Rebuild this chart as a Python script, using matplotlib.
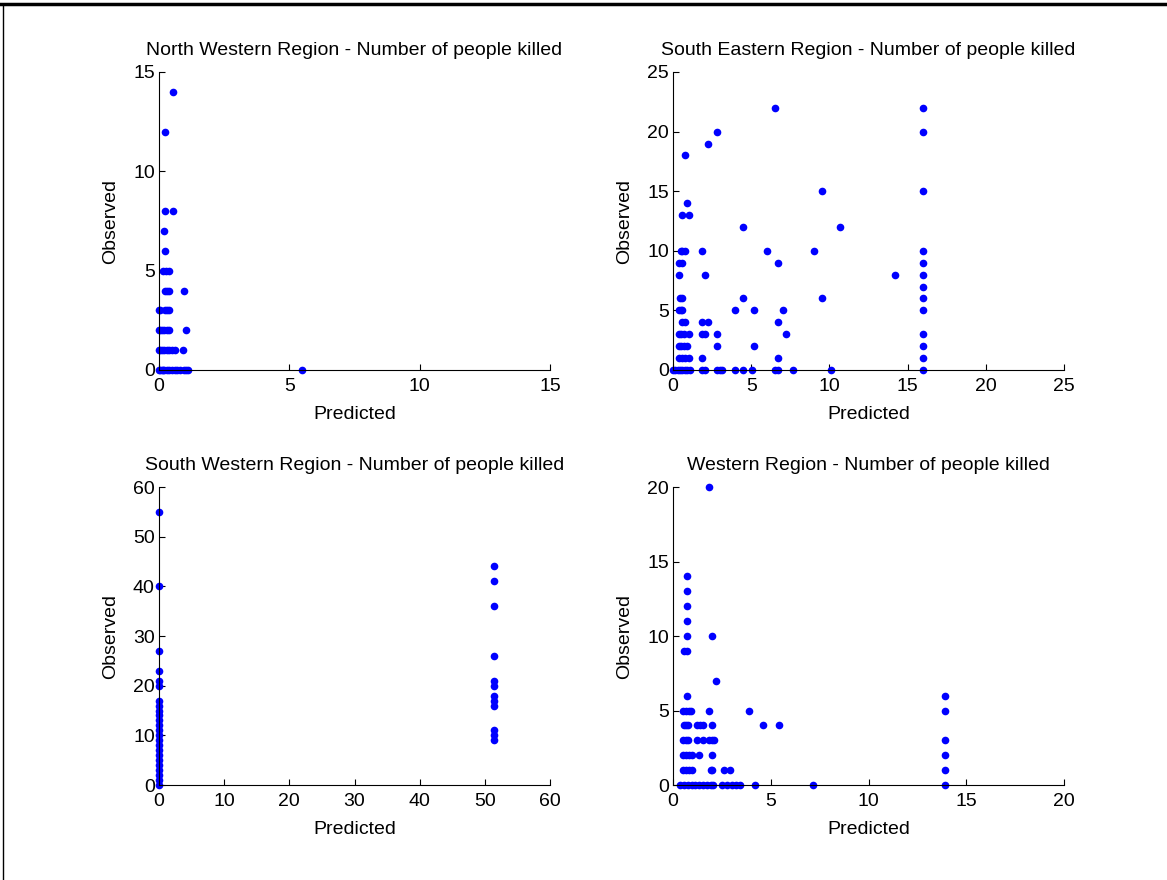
import matplotlib
matplotlib.use("Agg")
import matplotlib.pyplot as plt
from matplotlib.lines import Line2D

plt.rcParams['font.family'] = ['Liberation Sans', 'DejaVu Sans']

titles = ["North Western Region - Number of people killed",
          "South Eastern Region - Number of people killed",
          "South Western Region - Number of people killed",
          "Western Region - Number of people killed"]

# North Western
nw_pred = [0.55, 0.24, 0.24, 0.55, 0.19, 0.24,
           0.14, 0.27, 0.40,
           0.24, 0.32, 0.40, 0.96,
           0.00, 0.05, 0.24, 0.32, 0.40,
           0.00, 0.05, 0.12, 0.20, 0.30, 0.40, 1.05,
           0.00, 0.05, 0.10, 0.20, 0.30, 0.40, 0.50, 0.60, 0.93,
           0.00, 0.05, 0.10, 0.15, 0.20, 0.30, 0.40, 0.50, 0.60, 0.70, 0.80, 0.95, 1.05, 1.10,
           5.50]
nw_obs = [14, 12, 8, 8, 7, 6,
          5, 5, 5,
          4, 4, 4, 4,
          3, 3, 3, 3, 3,
          2, 2, 2, 2, 2, 2, 2,
          1, 1, 1, 1, 1, 1, 1, 1, 1,
          0, 0, 0, 0, 0, 0, 0, 0, 0, 0, 0, 0, 0, 0,
          0]

# South Eastern
se_pred = [6.52, 16.0, 2.84, 16.0, 2.24, 0.79, 9.55, 16.0, 0.87, 0.58, 1.00,
           4.48, 10.70,
           0.49, 0.60, 0.79, 1.85, 6.00, 9.03, 16.0,
           0.36, 0.58, 6.71, 16.0,
           0.36, 2.05, 14.19, 16.0,
           16.0,
           0.45, 0.58, 4.48, 9.55, 16.0,
           0.36, 0.50, 0.58, 3.98, 5.16, 7.01, 16.0,
           0.58, 0.79, 1.85, 2.24, 6.71,
           0.36, 0.50, 0.70, 1.00, 1.85, 2.05, 2.84, 7.20, 16.0,
           0.36, 0.50, 0.70, 0.87, 2.84, 5.16, 16.0,
           0.36, 0.55, 0.75, 1.00, 1.85, 6.71, 16.0,
           0.00, 0.15, 0.30, 0.45, 0.60, 0.75, 0.90, 1.07, 1.85, 2.05, 2.84, 3.00, 3.12,
           3.98, 4.48, 5.07, 6.52, 6.71, 7.66, 10.12, 16.0]
se_obs = [22, 22, 20, 20, 19, 18, 15, 15, 14, 13, 13,
          12, 12,
          10, 10, 10, 10, 10, 10, 10,
          9, 9, 9, 9,
          8, 8, 8, 8,
          7,
          6, 6, 6, 6, 6,
          5, 5, 5, 5, 5, 5, 5,
          4, 4, 4, 4, 4,
          3, 3, 3, 3, 3, 3, 3, 3, 3,
          2, 2, 2, 2, 2, 2, 2,
          1, 1, 1, 1, 1, 1, 1,
          0, 0, 0, 0, 0, 0, 0, 0, 0, 0, 0, 0, 0,
          0, 0, 0, 0, 0, 0, 0, 0]

# South Western
sw_pred = [0.0] * 24 + [51.4] * 12
sw_obs = [55, 40, 27, 23, 21, 20, 17, 16, 15, 14, 13, 12, 11, 10, 9, 8, 7, 6, 5, 4, 3, 2, 1, 0,
          44, 41, 36, 26, 21, 20, 18, 17, 16, 11, 10, 9]

# Western
w_pred = [1.86, 0.70, 0.70, 0.70, 0.70, 0.70, 2.01, 0.56, 0.70, 2.18,
          0.70, 13.91,
          0.50, 0.65, 0.80, 0.91, 1.86, 3.87, 13.91,
          0.56, 0.65, 0.77, 1.25, 1.40, 1.52, 2.01, 4.59, 5.44,
          0.50, 0.65, 0.77, 1.25, 1.52, 1.86, 2.00, 2.10, 13.91,
          0.50, 0.65, 0.80, 0.98, 1.33, 2.01, 13.91,
          0.50, 0.65, 0.80, 0.98, 1.94, 2.01, 2.63, 2.90, 13.91,
          0.36, 0.55, 0.75, 0.95, 1.15, 1.35, 1.55, 1.75, 1.95, 2.06,
          2.50, 2.75, 3.00, 3.20, 3.44, 4.21, 7.16, 13.91]
w_obs = [20, 14, 13, 12, 11, 10, 10, 9, 9, 7,
         6, 6,
         5, 5, 5, 5, 5, 5, 5,
         4, 4, 4, 4, 4, 4, 4, 4, 4,
         3, 3, 3, 3, 3, 3, 3, 3, 3,
         2, 2, 2, 2, 2, 2, 2,
         1, 1, 1, 1, 1, 1, 1, 1, 1,
         0, 0, 0, 0, 0, 0, 0, 0, 0, 0,
         0, 0, 0, 0, 0, 0, 0, 0]

preds = [nw_pred, se_pred, sw_pred, w_pred]
obss = [nw_obs, se_obs, sw_obs, w_obs]
limits = [15, 25, 60, 20]
ticks = [[0, 5, 10, 15], [0, 5, 10, 15, 20, 25], [0, 10, 20, 30, 40, 50, 60], [0, 5, 10, 15, 20]]

W, H = 1167, 880
fig = plt.figure(figsize=(W / 100, H / 100), dpi=100)

lefts = [159, 673, 159, 673]
tops = [72, 72, 487, 487]
aw = 391
ah = 298
FS = 14

for i in range(4):
    l, t = lefts[i], tops[i]
    ax = fig.add_axes([l / W, 1 - (t + ah) / H, aw / W, ah / H])
    ax.plot(preds[i], obss[i], 'o', color='#0000ff', markersize=5.5, clip_on=False,
            markeredgewidth=0)
    ax.set_xlim(0, limits[i])
    ax.set_ylim(0, limits[i])
    ax.set_xticks(ticks[i])
    ax.set_yticks(ticks[i])
    for s in ['top', 'right']:
        ax.spines[s].set_visible(False)
    for s in ['left', 'bottom']:
        ax.spines[s].set_linewidth(0.8)
        ax.spines[s].set_color('black')
    ax.tick_params(direction='in', length=4, width=0.8, labelsize=FS)
    ax.tick_params(axis='x', pad=6)
    ax.tick_params(axis='y', pad=3)
    ax.set_title(titles[i], fontsize=FS, pad=12)
    ax.set_xlabel('Predicted', fontsize=FS, labelpad=8)
    ax.set_ylabel('Observed', fontsize=FS, labelpad=10)

# figure border lines (top thick, left thin)
fig.add_artist(Line2D([0, 1], [1 - 4 / H, 1 - 4 / H], color='black', linewidth=2.5,
                      transform=fig.transFigure))
fig.add_artist(Line2D([3 / W, 3 / W], [0, 1 - 4 / H], color='black', linewidth=1.0,
                      transform=fig.transFigure))

fig.savefig('out.png', dpi=100)
